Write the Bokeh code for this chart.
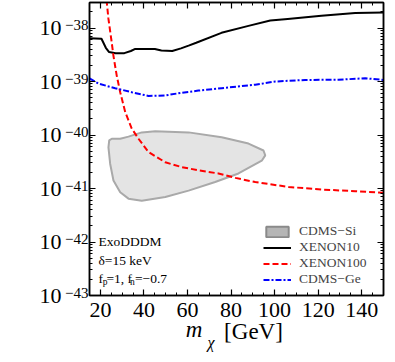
from bokeh.plotting import figure
from bokeh.models import (LogAxis, LinearAxis, FixedTicker, SingleIntervalTicker,
                          Label, Legend, LegendItem, CustomJSTickFormatter)
from bokeh.embed import file_html
from bokeh.resources import INLINE

# ---------------- data ----------------
xenon10_mass = [15, 20.5, 22.5, 24, 27, 31, 34, 36, 45, 48, 53, 57, 60.5, 64, 75.6, 88, 98, 106, 121.5, 137, 150]
xenon10_sigma = [6.46e-39, 6.31e-39, 4.27e-39, 3.55e-39, 3.39e-39, 3.39e-39, 3.72e-39, 4.07e-39,
                 4.07e-39, 3.80e-39, 3.72e-39, 4.17e-39, 4.68e-39, 5.3e-39, 8.13e-39, 1.096e-38,
                 1.38e-38, 1.48e-38, 1.70e-38, 1.91e-38, 1.95e-38]

xenon100_mass = [22.4, 23.7, 25.0, 26.0, 27.5, 29.1, 31.4, 34.4, 37.5, 42.1, 49.8, 57.4, 65, 74.2,
                 82, 91.1, 106.4, 121.7, 137, 150]
xenon100_sigma = [5.0e-38, 1.48e-38, 6.17e-39, 3.02e-39, 1.29e-39, 6.31e-40, 2.69e-40, 1.32e-40,
                  8.51e-41, 4.79e-41, 3.09e-41, 2.51e-41, 2.19e-41, 1.91e-41, 1.58e-41, 1.32e-41,
                  1.07e-41, 9.55e-42, 8.91e-42, 8.32e-42]

cdmsge_mass = [15, 19.1, 26.8, 34.4, 42.1, 49.8, 57.4, 65, 75.7, 91.1, 100.3, 114, 129.3, 141.6, 150]
cdmsge_sigma = [1.148e-39, 9.12e-40, 7.50e-40, 6.31e-40, 5.37e-40, 5.50e-40, 6.17e-40, 6.76e-40,
                7.50e-40, 8.71e-40, 1.0e-39, 1.07e-39, 1.08e-39, 1.15e-39, 1.07e-39]

cdmssi_mass = [24.05, 25.24, 29.1, 32.9, 39.0, 45.2, 60.5, 75.7, 88.0, 94.9, 95.7, 94.1, 83.4, 72.7,
               60.5, 49.8, 39.0, 32.9, 29.1, 26.0, 24.5, 23.7]
cdmssi_sigma = [7.94e-41, 8.51e-41, 8.51e-41, 9.33e-41, 1.12e-40, 1.175e-40, 1.12e-40, 9.12e-41,
                6.92e-41, 5.13e-41, 4.17e-41, 3.31e-41, 1.91e-41, 1.32e-41, 9.12e-42, 6.92e-42,
                5.89e-42, 6.46e-42, 8.51e-42, 1.41e-41, 2.88e-41, 5.89e-41]

y_ticks = [1e-43, 1e-42, 1e-41, 1e-40, 1e-39, 1e-38]
y_tick_base = ["10", "10", "10", "10", "10", "10"]
y_tick_exponents = ["−43", "−42", "−41", "−40", "−39", "−38"]
y_minor_ticks = [k * 10.0 ** e for e in range(-43, -37) for k in range(2, 10)]

# x-axis title pieces and the mass at which each piece is centred
title_pieces = ["m", "χ", "[GeV]"]
title_at = [63.0, 70.8, 90.3]

x_range = (15, 150)
y_range = (1e-43, 3e-38)

FONT = "Liberation Serif"

p = figure(frame_width=294, frame_height=293, x_range=x_range, y_range=y_range,
           y_axis_type="log", output_backend="svg", toolbar_location=None,
           min_border_left=89, min_border_right=2, min_border_top=2, min_border_bottom=50,
           background_fill_color="white", border_fill_color="white")
p.xgrid.visible = False
p.ygrid.visible = False
p.outline_line_color = "black"
p.outline_line_width = 1.5

# ---------------- glyphs ----------------
si = p.patch(cdmssi_mass, cdmssi_sigma, fill_color="#e4e4e4", line_color="#a9a9a9", line_width=2)
si_leg = p.patch(cdmssi_mass, cdmssi_sigma, fill_color="#b5b5b5", line_color="#8a8a8a",
                 line_width=2, visible=False)
x10 = p.line(xenon10_mass, xenon10_sigma, line_color="black", line_width=2)
x100 = p.line(xenon100_mass, xenon100_sigma, line_color="#ff0000", line_width=2, line_dash="6 3")
ge = p.line(cdmsge_mass, cdmsge_sigma, line_color="#0000ff", line_width=2, line_dash="6 2 2 2")

# ---------------- axes ----------------
xt = SingleIntervalTicker(interval=20, num_minor_ticks=4)
yt = FixedTicker(ticks=y_ticks, minor_ticks=y_minor_ticks)
blank = CustomJSTickFormatter(code="return ''")

bottom = p.below[0]
left = p.left[0]
bottom.ticker = xt
left.ticker = yt
left.formatter = blank

top = LinearAxis(ticker=xt, formatter=blank)
right = LogAxis(ticker=yt, formatter=blank)
p.add_layout(top, "above")
p.add_layout(right, "right")

for ax in [bottom, left, top, right]:
    ax.major_tick_in = 6
    ax.major_tick_out = 0
    ax.minor_tick_in = 3
    ax.minor_tick_out = 0
    ax.axis_line_width = 1.5
    ax.major_tick_line_width = 1.2
    ax.minor_tick_line_width = 1
    ax.major_label_text_font = FONT
    ax.major_label_text_color = "black"
    ax.major_label_text_font_size = "22px"

for ax in [top, right, left]:
    ax.major_label_standoff = 0
    ax.major_label_text_font_size = "1px"
bottom.major_label_standoff = 7


def text_axis(kind, ticks, labels, size, standoff, style="normal"):
    ax = kind(ticker=FixedTicker(ticks=ticks, minor_ticks=[]))
    ax.major_label_overrides = dict(zip(ticks, labels))
    ax.axis_line_color = None
    ax.major_tick_line_color = None
    ax.minor_tick_line_color = None
    ax.major_tick_out = 0
    ax.major_tick_in = 0
    ax.minor_tick_out = 0
    ax.minor_tick_in = 0
    ax.major_label_text_font = FONT
    ax.major_label_text_font_size = size
    ax.major_label_text_font_style = style
    ax.major_label_text_color = "black"
    ax.major_label_standoff = standoff
    return ax


# y tick labels: exponent (inner) and base "10" (outer)
exp_ticks = [t * 10 ** 0.056 for t in y_ticks]
exp_axis = text_axis(LogAxis, exp_ticks, y_tick_exponents, "15px", 1)
base_axis = text_axis(LogAxis, list(y_ticks), y_tick_base, "22px", 1)
p.left = [left, exp_axis, base_axis]

# x axis title m_chi [GeV]
m_axis = text_axis(LinearAxis, [title_at[0]], [title_pieces[0]], "23px", -3, "italic")
gev_axis = text_axis(LinearAxis, [title_at[2]], [title_pieces[2]], "23px", -26)
chi_axis = text_axis(LinearAxis, [title_at[1]], [title_pieces[1]], "16px", -13, "italic")
p.below = [bottom, m_axis, gev_axis, chi_axis]

# ---------------- legend ----------------
legend = Legend(items=[
    LegendItem(label="CDMS−Si", renderers=[si_leg]),
    LegendItem(label="XENON10", renderers=[x10]),
    LegendItem(label="XENON100", renderers=[x100]),
    LegendItem(label="CDMS−Ge", renderers=[ge]),
], location=(174, 8))
legend.background_fill_alpha = 0
legend.border_line_alpha = 0
legend.label_text_font = FONT
legend.label_text_font_size = "13.5px"
legend.glyph_width = 28
legend.glyph_height = 13
legend.label_height = 16
legend.spacing = 0
legend.padding = 0
legend.margin = 0
legend.label_standoff = 8
p.add_layout(legend)

# ---------------- text annotations ----------------
def lab(x, y, text, size="13.5px", style="normal"):
    p.add_layout(Label(x=x, y=y, x_units="screen", y_units="screen", text=text,
                       text_font=FONT, text_font_size=size, text_font_style=style,
                       text_baseline="alphabetic", text_color="black"))

lab(9, 54, "ExoDDDM")
lab(9, 35, "δ=15 keV")
lab(9, 17, "f")
lab(13.3, 14, "p", size="9.5px")
lab(17, 17, "=1, f")
lab(40.5, 14, "n", size="9.5px")
lab(45.5, 17, "=−0.7")

open("out.html", "w").write(file_html(p, INLINE))
